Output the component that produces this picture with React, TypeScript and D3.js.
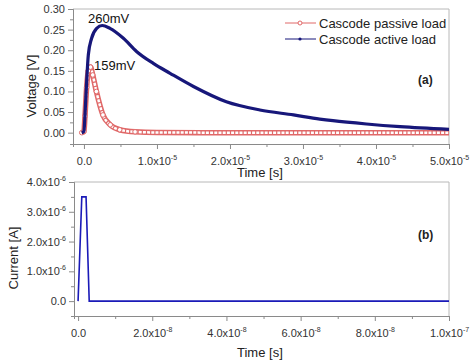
import React, { useEffect, useRef } from 'react'
import * as d3 from 'd3'

// voltage plot, time in units of 1e-5 s
const activeTime = [-0.03, 0.0, 0.014, 0.037, 0.06, 0.105, 0.174, 0.25, 0.356, 0.54, 0.72, 0.95, 1.18, 1.5, 1.95, 2.41, 2.87, 3.23, 3.41, 3.87, 4.33, 5.0]
const activeVolt = [0, 0.003, 0.043, 0.124, 0.189, 0.229, 0.253, 0.26, 0.253, 0.229, 0.197, 0.168, 0.144, 0.112, 0.075, 0.055, 0.043, 0.033, 0.029, 0.021, 0.0146, 0.008]

const passiveTime = [-0.03, 0.0, 0.014, 0.037, 0.06, 0.09, 0.12, 0.17, 0.26, 0.36, 0.49, 0.7, 1.0, 2.0, 3.0, 4.0, 5.0]
const passiveVolt = [0, 0.003, 0.04, 0.11, 0.15, 0.159, 0.14, 0.1, 0.043, 0.019, 0.007, 0.002, 0.0005, 0, 0, 0, 0]

// current plot, time in units of 1e-8 s, current in 1e-6 A
const currentTime = [0, 0.1, 0.215, 0.3, 10]
const currentVal = [0, 3.5, 3.5, 0, 0]

const topXTicks = [0, 1, 2, 3, 4, 5]
const topXLabels = ['0.0', '1.0x10|-5', '2.0x10|-5', '3.0x10|-5', '4.0x10|-5', '5.0x10|-5']
const topYTicks = [0, 0.05, 0.1, 0.15, 0.2, 0.25, 0.3]
const topYLabels = ['0.00', '0.05', '0.10', '0.15', '0.20', '0.25', '0.30']
const botXTicks = [0, 2, 4, 6, 8, 10]
const botXLabels = ['0.0', '2.0x10|-8', '4.0x10|-8', '6.0x10|-8', '8.0x10|-8', '1.0x10|-7']
const botYTicks = [0, 1, 2, 3, 4]
const botYLabels = ['0.0', '1.0x10|-6', '2.0x10|-6', '3.0x10|-6', '4.0x10|-6']

const FONT = "'Liberation Sans', Arial, sans-serif"
const PASSIVE = '#e06868'
const ACTIVE = '#17177a'

function App() {
  const ref = useRef(null)

  useEffect(() => {
    const svg = d3.select(ref.current)
    svg.selectAll('*').remove()
    svg.style('font-family', FONT)

    const label = (sel, s) => {
      const parts = s.split('|')
      sel.text(null)
      sel.append('tspan').text(parts[0])
      if (parts[1]) sel.append('tspan').attr('font-size', 7).attr('dy', -5).text(parts[1])
    }

    const panel = (cfg) => {
      const x = d3.scaleLinear().domain(cfg.xDomain).range(cfg.xRange)
      const y = d3.scaleLinear().domain(cfg.yDomain).range(cfg.yRange)
      const g = svg.append('g')
      const [x0, x1] = cfg.xRange
      const [y0, y1] = cfg.yRange

      // frame top/right
      g.append('path').attr('d', `M${x0},${y1}H${x1}V${y0}`).attr('fill', 'none').attr('stroke', '#b8b8b8')

      // minor ticks
      const xMinor = cfg.xTicks.slice(0, -1).map((v, i) => (v + cfg.xTicks[i + 1]) / 2)
      const yMinor = cfg.yTicks.slice(0, -1).map((v, i) => (v + cfg.yTicks[i + 1]) / 2)
      g.append('g').attr('transform', `translate(0,${y0})`)
        .call(d3.axisBottom(x).tickValues(xMinor).tickSize(3).tickFormat(() => ''))
      g.append('g').attr('transform', `translate(${x0},0)`)
        .call(d3.axisLeft(y).tickValues(yMinor).tickSize(3).tickFormat(() => ''))

      const xa = g.append('g').attr('transform', `translate(0,${y0})`)
        .call(d3.axisBottom(x).tickValues(cfg.xTicks).tickSize(5).tickSizeOuter(0).tickPadding(6))
      xa.selectAll('.tick text').each(function (d, i) { label(d3.select(this), cfg.xLabels[i]) })
      const ya = g.append('g').attr('transform', `translate(${x0},0)`)
        .call(d3.axisLeft(y).tickValues(cfg.yTicks).tickSize(5).tickSizeOuter(0).tickPadding(3))
      ya.selectAll('.tick text').each(function (d, i) { label(d3.select(this), cfg.yLabels[i]) })

      g.selectAll('.domain').attr('stroke', '#8a8a8a')
      g.selectAll('.tick line').attr('stroke', '#8a8a8a')
      g.selectAll('.tick text').attr('font-family', FONT).attr('font-size', 11).attr('fill', '#333')
      xa.selectAll('.tick text').attr('dy', '0.9em')

      g.append('text').text('Time [s]').attr('x', cfg.timeX).attr('y', cfg.timeY)
        .attr('font-size', 13).attr('fill', '#222')
      g.append('text').text(cfg.yTitle)
        .attr('transform', `translate(${cfg.yTitleX},${cfg.yTitleY}) rotate(-90)`)
        .attr('text-anchor', 'middle').attr('font-size', 13).attr('fill', '#222')
      g.append('text').text(cfg.tag).attr('x', 418).attr('y', cfg.tagY)
        .attr('font-size', 12).attr('font-weight', 'bold').attr('fill', '#222')
      return { g, x, y }
    }

    // ---- top panel (a)
    const a = panel({
      xDomain: [-0.15, 5.0], xRange: [73, 449],
      yDomain: [-0.0275, 0.30], yRange: [144, 9],
      xTicks: topXTicks, xLabels: topXLabels, yTicks: topYTicks, yLabels: topYLabels,
      timeX: 237, timeY: 177, yTitle: 'Voltage [V]', yTitleX: 36, yTitleY: 86,
      tag: '(a)', tagY: 84,
    })
    const lineA = d3.line().x(d => a.x(d[0])).y(d => a.y(d[1])).curve(d3.curveMonotoneX)
    const passive = passiveTime.map((t, i) => [t, passiveVolt[i]])
    const active = activeTime.map((t, i) => [t, activeVolt[i]])

    a.g.append('path').attr('d', lineA(passive)).attr('fill', 'none').attr('stroke', PASSIVE).attr('stroke-width', 5.5)
    a.g.append('path').attr('d', lineA(passive)).attr('fill', 'none').attr('stroke', '#fff').attr('stroke-width', 2.5)
      .attr('stroke-dasharray', '3 1.2')
    a.g.selectAll('.pm').data(passive.filter(d => d[0] < 1)).join('circle').attr('class', 'pm')
      .attr('cx', d => a.x(d[0])).attr('cy', d => a.y(d[1])).attr('r', 2.3)
      .attr('fill', '#fff').attr('stroke', PASSIVE).attr('stroke-width', 1)
    a.g.append('path').attr('d', lineA(active)).attr('fill', 'none').attr('stroke', ACTIVE).attr('stroke-width', 3.2)
      .attr('stroke-linejoin', 'round')

    a.g.append('text').text('260mV').attr('x', 88).attr('y', 23).attr('font-size', 13).attr('fill', '#111')
    a.g.append('text').text('159mV').attr('x', 94).attr('y', 70).attr('font-size', 13).attr('fill', '#111')

    // legend
    const leg = a.g.append('g')
    leg.append('line').attr('x1', 285).attr('x2', 316).attr('y1', 23).attr('y2', 23).attr('stroke', PASSIVE)
    leg.append('circle').attr('cx', 300).attr('cy', 23).attr('r', 2).attr('fill', '#fff').attr('stroke', PASSIVE)
    leg.append('text').text('Cascode passive load').attr('x', 319).attr('y', 27.5).attr('font-size', 13).attr('fill', '#222')
    leg.append('line').attr('x1', 285).attr('x2', 316).attr('y1', 39).attr('y2', 39).attr('stroke', ACTIVE)
    leg.append('circle').attr('cx', 300).attr('cy', 39).attr('r', 1.6).attr('fill', ACTIVE)
    leg.append('text').text('Cascode active load').attr('x', 319).attr('y', 43.5).attr('font-size', 13).attr('fill', '#222')

    // ---- bottom panel (b)
    const b = panel({
      xDomain: [-0.11, 10], xRange: [74, 449],
      yDomain: [-0.5, 4.0], yRange: [316, 182],
      xTicks: botXTicks, xLabels: botXLabels, yTicks: botYTicks, yLabels: botYLabels,
      timeX: 237, timeY: 357, yTitle: 'Current [A]', yTitleX: 18, yTitleY: 258,
      tag: '(b)', tagY: 239,
    })
    const lineB = d3.line().x(d => b.x(d[0])).y(d => b.y(d[1]))
    b.g.append('path').attr('d', lineB(currentTime.map((t, i) => [t, currentVal[i]])))
      .attr('fill', 'none').attr('stroke', '#1a1ab8').attr('stroke-width', 1.6)
  }, [])

  return (
    <svg ref={ref} width={472} height={363}
      style={{ position: 'absolute', left: 0, top: 0, background: '#fff' }} />
  )
}

export default App
